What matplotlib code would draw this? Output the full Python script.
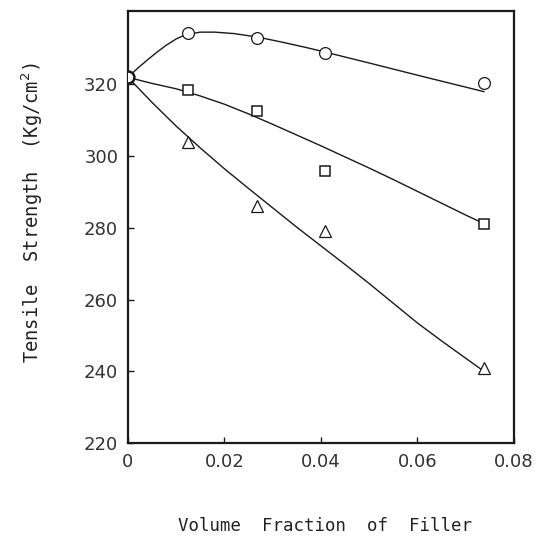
import numpy as np
import matplotlib
matplotlib.use('Agg')
import matplotlib.pyplot as plt

x_pts = [0.0, 0.0124, 0.0267, 0.0408, 0.0738]
circ_pts = [322.0, 334.4, 333.0, 328.9, 320.5]
sq_pts = [322.0, 318.4, 312.5, 296.0, 281.0]
tri_pts = [322.0, 304.0, 286.0, 279.0, 240.8]

# hand-drawn fit curves
circ_cx = [0.0, 0.002, 0.004, 0.006, 0.008, 0.010, 0.012, 0.015, 0.018, 0.022,
           0.027, 0.032, 0.037, 0.041, 0.050, 0.060, 0.0738]
circ_cy = [322.0, 324.5, 326.8, 329.0, 331.0, 332.7, 333.9, 334.6, 334.6, 334.2,
           333.2, 331.8, 330.3, 329.0, 326.0, 322.6, 318.0]

sq_cx = [0.0, 0.005, 0.010, 0.015, 0.020, 0.025, 0.030, 0.035, 0.040, 0.045,
         0.050, 0.055, 0.060, 0.065, 0.070, 0.0738]
sq_cy = [322.0, 320.3, 318.8, 316.8, 314.5, 311.8, 308.9, 305.9, 302.9, 299.8,
         296.7, 293.5, 290.2, 286.9, 283.6, 281.2]

tri_cx = [0.0, 0.005, 0.010, 0.015, 0.020, 0.025, 0.030, 0.035, 0.040, 0.045,
          0.050, 0.055, 0.060, 0.065, 0.0738]
tri_cy = [322.0, 315.0, 308.4, 302.3, 296.5, 291.0, 285.6, 280.2, 275.0, 269.8,
          264.5, 259.0, 253.5, 248.5, 240.0]

x_ticks = [0, 0.02, 0.04, 0.06, 0.08]
x_ticklabels = ['0', '0.02', '0.04', '0.06', '0.08']
y_ticks = [220, 240, 260, 280, 300, 320]

ink = '#1a1a1a'
font = 'DejaVu Sans Mono'

fig = plt.figure(figsize=(5.42, 5.36), dpi=100)
ax = fig.add_axes([0.236, 0.1735, 0.712, 0.806])

# Curves
ax.plot(circ_cx, circ_cy, color=ink, lw=1.0)
ax.plot(sq_cx, sq_cy, color=ink, lw=1.0)
ax.plot(tri_cx, tri_cy, color=ink, lw=1.0)

# Markers
ax.plot(x_pts[1:], circ_pts[1:], 'o', ms=8.5, mfc='white', mec=ink, mew=0.9, ls='none')
ax.plot(x_pts[1:], sq_pts[1:], 's', ms=6.5, mfc='white', mec=ink, mew=1.1, ls='none')
ax.plot(x_pts[1:], tri_pts[1:], '^', ms=9, mfc='white', mec=ink, mew=0.9, ls='none')
ax.plot(x_pts[0], circ_pts[0], 'o', ms=8.5, mfc='white', mec=ink, mew=1.8, zorder=5)

# Limits / ticks
ax.set_xlim(0, 0.08)
ax.set_ylim(220, 340.5)
ax.set_xticks(x_ticks)
ax.set_xticklabels(x_ticklabels)
ax.set_yticks(y_ticks)
ax.tick_params(direction='in', length=4, width=1.0, colors=ink, pad=7,
               labelsize=13)
for lab in ax.get_xticklabels() + ax.get_yticklabels():
    lab.set_color('#333333')

for s in ax.spines.values():
    s.set_linewidth(1.6)
    s.set_color(ink)

# Labels
fig.text(0.06, 0.604, 'Tensile  Strength  (Kg/cm$^2$)', rotation=90,
         ha='center', va='center', fontsize=13.5, family=font, color='#222222')
fig.text(0.6, 0.019, 'Volume  Fraction  of  Filler', ha='center', va='center',
         fontsize=12.5, family=font, color='#222222')

plt.savefig('out.png', dpi=100)
plt.close(fig)
